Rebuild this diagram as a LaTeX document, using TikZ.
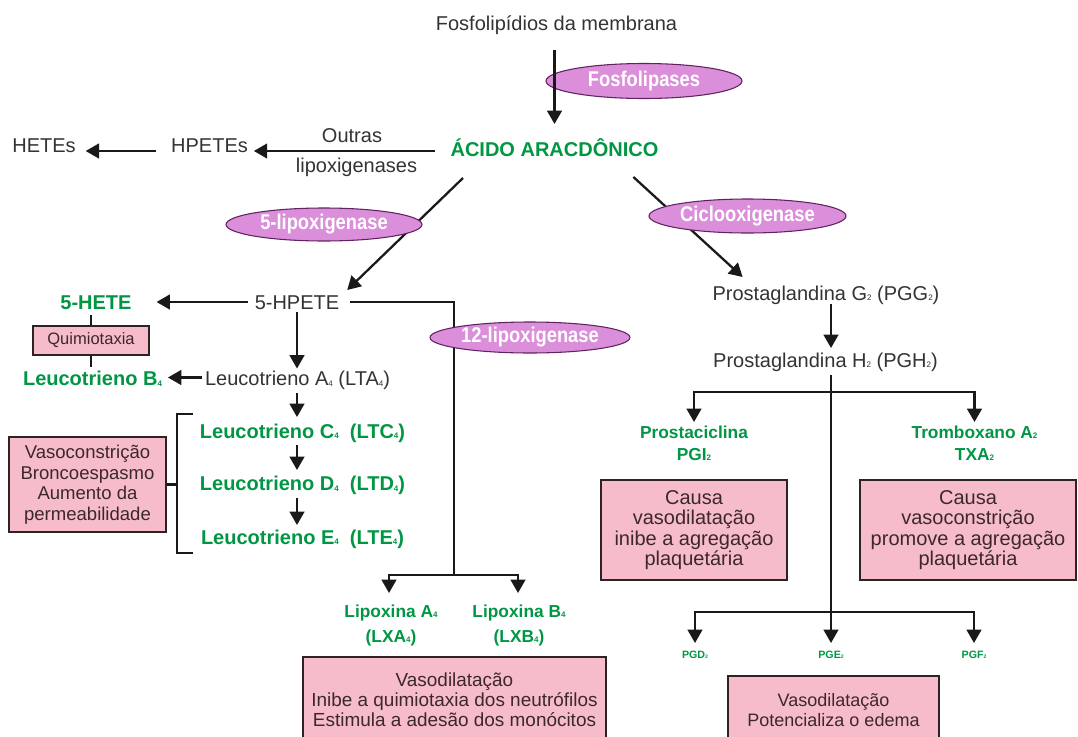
\documentclass[tikz,border=0pt]{standalone}
\usepackage{fontspec}
\setmainfont{Liberation Sans}
\newfontfamily\enzfont[FakeStretch=0.86]{Liberation Sans}
\usetikzlibrary{shapes.geometric,arrows.meta,calc}
\definecolor{lgreen}{RGB}{0,150,68}
\definecolor{pinkf}{RGB}{246,188,204}
\definecolor{enzf}{RGB}{219,142,217}
\definecolor{enzb}{RGB}{95,35,95}
\definecolor{boxb}{RGB}{45,35,35}
\definecolor{boxt}{RGB}{60,40,40}
\newcommand\ssb[1]{\raisebox{-0.6pt}{\fontsize{6}{6}\selectfont #1}}
\newcommand\ssbt[1]{\raisebox{-0.3pt}{\fontsize{3.8}{4}\selectfont #1}}
\tikzset{
  base/.style={inner sep=0pt, outer sep=0pt, anchor=base},
  blk/.style={base, text=black!80, font=\fontsize{15}{18}\selectfont},
  grn/.style={base, text=lgreen, font=\bfseries\fontsize{15}{18}\selectfont},
  grns/.style={base, text=lgreen, font=\bfseries\fontsize{13}{16}\selectfont},
  grnt/.style={base, text=lgreen, font=\bfseries\fontsize{8}{9}\selectfont},
  enz/.style={ellipse, draw=enzb, fill=enzf, line width=0.8pt, text=white,
    font=\enzfont\bfseries\fontsize{16}{18}\selectfont, inner sep=0pt},
  pbox/.style={draw=boxb, fill=pinkf, line width=1pt, align=center, inner sep=0pt, text=boxt},
  ln/.style={line width=1.7pt, draw=black!90, line join=miter},
  arr/.style={ln, -{Triangle[length=10pt,width=11pt]}},
  arr2/.style={ln, {Triangle[length=10pt,width=11pt]}-{Triangle[length=10pt,width=11pt]}},
}
\begin{document}
\begin{tikzpicture}[x=0.75pt,y=-0.75pt]
\useasboundingbox (0,0) rectangle (1078,736);
% ---- text nodes
\node[blk] (fos) at (556.5,30) {Fosfolipídios da membrana};
\node[grn] (aa) at (554.5,156) {ÁCIDO ARACDÔNICO};
\node[blk] (outras) at (352,142) {Outras};
\node[blk] (lipox) at (356.5,172) {lipoxigenases};
\node[blk] (hpetes) at (209.5,152) {HPETEs};
\node[blk] (hetes) at (44,152) {HETEs};
\node[blk] (hpete) at (297,309) {5-HPETE};
\node[grn] (hete) at (96,309) {5-HETE};
\node[blk] (lta) at (297.5,385.5) {Leucotrieno A\ssb{4}\ (LTA\ssb{4})};
\node[grn] (ltb) at (92.5,385.5) {Leucotrieno B\ssb{4}};
\node[grn] (ltc) at (302.5,438) {Leucotrieno C\ssb{4}\ \ (LTC\ssb{4})};
\node[grn] (ltd) at (302.5,490.5) {Leucotrieno D\ssb{4}\ \ (LTD\ssb{4})};
\node[grn] (lte) at (302.5,544) {Leucotrieno E\ssb{4}\ \ (LTE\ssb{4})};
\node[grns] (lxa1) at (391,617) {Lipoxina A\ssb{4}};
\node[grns] (lxa2) at (391,642) {(LXA\ssb{4})};
\node[grns] (lxb1) at (519,617) {Lipoxina B\ssb{4}};
\node[grns] (lxb2) at (519,642) {(LXB\ssb{4})};
\node[blk] (pgg) at (826,300) {Prostaglandina G\ssb{2} (PGG\ssb{2})};
\node[blk] (pgh) at (825.5,367) {Prostaglandina H\ssb{2} (PGH\ssb{2})};
\node[grns] (prc1) at (694,438) {Prostaciclina};
\node[grns] (prc2) at (694,460) {PGI\ssb{2}};
\node[grns] (tbx1) at (974.5,438) {Tromboxano A\ssb{2}};
\node[grns] (tbx2) at (974.5,460) {TXA\ssb{2}};
\node[grnt] (pgd) at (695,658) {PGD\ssbt{2}};
\node[grnt] (pge) at (831,658) {PGE\ssbt{2}};
\node[grnt] (pgf) at (974,658) {PGF\ssbt{2}};
% ---- boxes
\node[pbox, minimum width=87pt, minimum height=21.75pt, font=\fontsize{12.4}{14}\selectfont] (qbox) at (91,340.5) {Quimiotaxia};
\node[pbox, minimum width=117.75pt, minimum height=71.25pt, font=\fontsize{13.9}{15.4}\selectfont] (vbox) at (87.5,484.5) {Vasoconstrição\\Broncoespasmo\\Aumento da\\permeabilidade};
\node[pbox, minimum width=139.5pt, minimum height=75pt, font=\fontsize{15}{15.4}\selectfont] (cbox1) at (694,530) {Causa\\vasodilatação\\inibe a agregação\\plaquetária};
\node[pbox, minimum width=162pt, minimum height=75pt, font=\fontsize{15}{15.4}\selectfont] (cbox2) at (968,530) {Causa\\vasoconstrição\\promove a agregação\\plaquetária};
\node[pbox, minimum width=227.25pt, minimum height=64.5pt, font=\fontsize{14.2}{15}\selectfont] (lbox) at (454.5,700) {Vasodilatação\\Inibe a quimiotaxia dos neutrófilos\\Estimula a adesão dos monócitos};
\node[pbox, minimum width=158.25pt, minimum height=51pt, font=\fontsize{13.5}{15}\selectfont] (rbox) at (833.5,710) {Vasodilatação\\Potencializa o edema};
% ---- junction coordinates
\coordinate (j1) at (831,392);
\coordinate (j2) at (831,612);
\coordinate (j4) at (454,575);
% ---- connectors
\draw[arr] ($(aa.base west)+(-16,-5)$) -- ($(hpetes.base east)+(6,-1)$);
\draw[arr] ($(hpetes.base west)+(-15,-1)$) -- ($(hetes.base east)+(10,-1)$);
\draw[arr] ($(aa.base)+(-91.5,22)$) -- ($(hpete.base east)+(8,-19)$);
\draw[arr] ($(aa.base east)+(-25,21)$) -- ($(pgg.base west)+(30,-23)$);
\draw[arr] ($(pgg.base)+(5,4)$) -- ($(pgh.base)+(5.5,-19)$);
\draw[arr] ($(pgh.base)+(5.5,8)$) -- ($(pge.base)+(0,-15)$);
\draw[arr2] ($(prc1.base)+(0,-16)$) -- (prc1.base |- j1) -- (tbx1.base |- j1) -- ($(tbx1.base)+(0,-16)$);
\draw[arr2] ($(pgd.base)+(0,-15)$) -- (pgd.base |- j2) -- (pgf.base |- j2) -- ($(pgf.base)+(0,-15)$);
\draw[arr] ($(hpete.base west)+(-7,-7)$) -- ($(hete.base east)+(25,-7)$);
\draw[ln] ($(hpete.base east)+(11,-7)$) -| (j4);
\draw[arr2] ($(lxa1.base)+(-2,-24)$) -- ($(lxa1.base |- j4)+(-2,0)$) -- ($(lxb1.base |- j4)+(-1,0)$) -- ($(lxb1.base)+(-1,-24)$);
\draw[arr] ($(hpete.base)+(0,3)$) -- ($(hpete.base |- lta.base)+(0,-17)$);
\draw[arr] ($(lta.base west)+(-3,-8)$) -- ($(ltb.base east)+(6,-8)$);
\draw[arr] ($(hpete.base |- lta.base)+(0,7)$) -- ($(hpete.base |- ltc.base)+(0,-21)$);
\draw[arr] ($(hpete.base |- ltc.base)+(0,7)$) -- ($(hpete.base |- ltd.base)+(0,-20.5)$);
\draw[arr] ($(hpete.base |- ltd.base)+(0,7)$) -- ($(hpete.base |- lte.base)+(0,-19)$);
\draw[ln] ($(hete.base -| qbox.north)+(0,6)$) -- (qbox.north);
\draw[ln] (qbox.south) -- ($(ltb.base -| qbox.south)+(0,-19)$);
\draw[ln] ($(ltc.base west)+(-7,-24)$) -- ++(-16,0) |- ($(lte.base west)+(-8,9)$);
\draw[ln] (vbox.east) -- ++(10,0);
% ---- enzymes
\node[enz, minimum width=147pt, minimum height=26.25pt] (fpl) at (644,81) {Fosfolipases};
\node[enz, minimum width=147pt, minimum height=24.75pt] (lox5) at (324,224.5) {5-lipoxigenase};
\node[enz, minimum width=147.75pt, minimum height=25.5pt] (cox) at (747.5,216) {Ciclooxigenase};
\node[enz, minimum width=150pt, minimum height=23.25pt] (lox12) at (530,337.5) {12-lipoxigenase};
\draw[arr] ($(fos.base -| aa.base)+(0,20)$) -- ($(aa.base)+(0,-32)$);
\end{tikzpicture}
\end{document}
